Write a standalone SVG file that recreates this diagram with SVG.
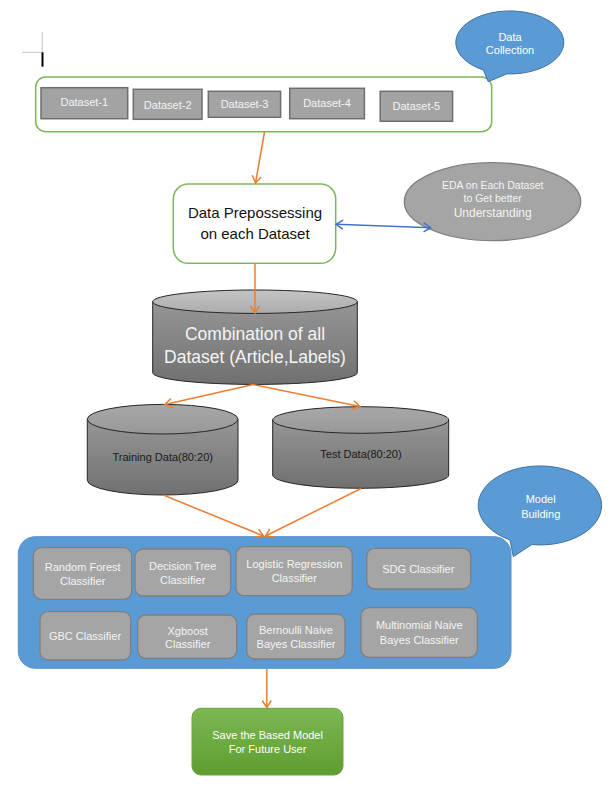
<svg xmlns="http://www.w3.org/2000/svg" width="613" height="809" viewBox="0 0 613 809">
<defs>
<style>
text{font-family:"Liberation Sans",Arial,sans-serif;text-anchor:middle}
.ds{fill:#a3a3a3;stroke:#6e6e6e;stroke-width:1.5}
.dst{fill:#f4f4f4;font-size:11px}
.cl{fill:#a5a5a5;stroke:#7f7f7f;stroke-width:1.3}
.clt{fill:#f4f4f4;font-size:11px}
.gb{fill:#ffffff;stroke:#7cb75a;stroke-width:1.5}
.bub{fill:#5b9bd5;stroke:#41719c;stroke-width:1}
.bubt{fill:#ffffff;font-size:11px}
.cylb{fill:url(#cylGrad);stroke:#262626;stroke-width:1}
.cylt{fill:url(#topGrad);stroke:#262626;stroke-width:1}
.cylt2{fill:url(#topGrad2);stroke:#262626;stroke-width:1}
.or{stroke:#ed7d31;stroke-width:1.5;fill:none}
.bl{stroke:#4472c4;stroke-width:1.5;fill:none}
</style>
<linearGradient id="cylGrad" x1="0" y1="0" x2="0" y2="1">
<stop offset="0" stop-color="#969696"/>
<stop offset="1" stop-color="#707070"/>
</linearGradient>
<linearGradient id="topGrad" x1="0" y1="0" x2="0" y2="1">
<stop offset="0" stop-color="#c4c4c4"/>
<stop offset="1" stop-color="#acacac"/>
</linearGradient>
<linearGradient id="topGrad2" x1="0" y1="0" x2="0" y2="1">
<stop offset="0" stop-color="#a8a8a8"/>
<stop offset="1" stop-color="#989898"/>
</linearGradient>
<linearGradient id="greenGrad" x1="0" y1="0" x2="0" y2="1">
<stop offset="0" stop-color="#7db754"/>
<stop offset="1" stop-color="#5e9d30"/>
</linearGradient>
<marker id="ao" markerUnits="userSpaceOnUse" markerWidth="14" markerHeight="14" viewBox="-10 -7 12 14" refX="0" refY="0" orient="auto">
<path d="M-7,-4.5 L0,0 L-7,4.5" fill="none" stroke="#ed7d31" stroke-width="1.5"/>
</marker>
<marker id="ab" markerUnits="userSpaceOnUse" markerWidth="14" markerHeight="14" viewBox="-10 -7 12 14" refX="0" refY="0" orient="auto-start-reverse">
<path d="M-7,-4.5 L0,0 L-7,4.5" fill="none" stroke="#4472c4" stroke-width="1.5"/>
</marker>
</defs>
<rect width="613" height="809" fill="#ffffff"/>

<g id="cursor">
<line x1="22" y1="52.3" x2="42.3" y2="52.3" stroke="#c4c4c4" stroke-width="1"/>
<line x1="42.3" y1="32.3" x2="42.3" y2="52.3" stroke="#c4c4c4" stroke-width="1"/>
<rect x="41.5" y="52.3" width="2" height="14.4" fill="#000000"/>
</g>

<g id="data-collection-group">
<rect class="gb" x="35.7" y="77" width="456" height="54.7" rx="10"/>
</g>
<g id="dataset-1"><rect class="ds" x="41" y="87.7" width="86.7" height="31"/><text class="dst" x="84.3" y="105.5">Dataset-1</text></g>
<g id="dataset-2"><rect class="ds" x="133.3" y="89.3" width="68.7" height="30"/><text class="dst" x="167.7" y="109">Dataset-2</text></g>
<g id="dataset-3"><rect class="ds" x="208.3" y="91.3" width="72.3" height="26"/><text class="dst" x="244.5" y="108">Dataset-3</text></g>
<g id="dataset-4"><rect class="ds" x="289.7" y="88.3" width="74.7" height="30.4"/><text class="dst" x="327" y="107">Dataset-4</text></g>
<g id="dataset-5"><rect class="ds" x="380.2" y="91.3" width="72.4" height="30"/><text class="dst" x="416.4" y="110">Dataset-5</text></g>

<g id="data-collection-callout">
<path class="bub" d="M506.7,73.9 A54 31.5 0 1 0 483.3,69.9 L488.3,81.7 Z"/>
<text class="bubt" x="510" y="40.5">Data</text>
<text class="bubt" x="510" y="54">Collection</text>
</g>

<g id="data-prepossessing">
<rect class="gb" x="173.3" y="184" width="162.4" height="79.3" rx="15"/>
<text x="255" y="218" style="font-size:15px;fill:#111111">Data Prepossessing</text>
<text x="255" y="239" style="font-size:15px;fill:#111111">on each Dataset</text>
</g>

<g id="eda">
<ellipse cx="492.5" cy="201.7" rx="88.2" ry="39" fill="#a5a5a5" stroke="#7f7f7f" stroke-width="1.3"/>
<text x="492.7" y="189" style="font-size:10.5px;fill:#f4f4f4">EDA on Each Dataset</text>
<text x="492.7" y="202" style="font-size:10.5px;fill:#f4f4f4">to Get better</text>
<text x="492.7" y="217" style="font-size:12px;fill:#f4f4f4">Understanding</text>
</g>

<g id="combination">
<path class="cylb" d="M152.7,301.7 L152.7,372.7 A102.3 11.7 0 0 0 357.3,372.7 L357.3,301.7 Z"/>
<ellipse class="cylt" cx="255" cy="301.7" rx="102.3" ry="11.7"/>
<text x="255" y="339.5" style="font-size:17.5px;fill:#f4f4f4">Combination of all</text>
<text x="255" y="362.5" style="font-size:17.5px;fill:#f4f4f4">Dataset (Article,Labels)</text>
</g>

<g id="training-data">
<path class="cylb" d="M87.3,419.2 L87.3,480.2 A75.35 14.8 0 0 0 238,480.2 L238,419.2 Z"/>
<ellipse class="cylt2" cx="162.65" cy="419.2" rx="75.35" ry="14.8"/>
<text x="162.7" y="461" style="font-size:11px;fill:#1a1a1a">Training Data(80:20)</text>
</g>

<g id="test-data">
<path class="cylb" d="M272.7,420 L272.7,475 A88 13.3 0 0 0 448.7,475 L448.7,420 Z"/>
<ellipse class="cylt2" cx="360.7" cy="420" rx="88" ry="13.3"/>
<text x="361" y="458" style="font-size:11px;fill:#1a1a1a">Test Data(80:20)</text>
</g>

<g id="model-building-group">
<rect x="18.3" y="536.7" width="492.7" height="131.6" rx="17" fill="#5b9bd5" stroke="#5590cc" stroke-width="1"/>
</g>
<g id="random-forest"><rect class="cl" x="33.3" y="547.7" width="98.4" height="51.6" rx="8"/><text class="clt" x="82.7" y="570.6">Random Forest</text><text class="clt" x="82.7" y="585">Classifier</text></g>
<g id="decision-tree"><rect class="cl" x="135" y="549" width="95.7" height="47" rx="8"/><text class="clt" x="182.7" y="569.6">Decision Tree</text><text class="clt" x="182.7" y="584">Classifier</text></g>
<g id="logistic-regression"><rect class="cl" x="236" y="546.7" width="116.3" height="49" rx="8"/><text class="clt" x="294.3" y="568.2">Logistic Regression</text><text class="clt" x="294.3" y="581.6">Classifier</text></g>
<g id="sdg"><rect class="cl" x="366.7" y="548.3" width="104" height="40.7" rx="8"/><text class="clt" x="418.3" y="573">SDG Classifier</text></g>
<g id="gbc"><rect class="cl" x="40" y="611.7" width="90.7" height="48.3" rx="8"/><text class="clt" x="85" y="639.6">GBC Classifier</text></g>
<g id="xgboost"><rect class="cl" x="137.7" y="615" width="99" height="43.3" rx="8"/><text class="clt" x="187.7" y="634.6">Xgboost</text><text class="clt" x="187.7" y="648">Classifier</text></g>
<g id="bernoulli"><rect class="cl" x="246.7" y="614" width="98.3" height="45" rx="8"/><text class="clt" x="296" y="634">Bernoulli Naive</text><text class="clt" x="296" y="648">Bayes Classifier</text></g>
<g id="multinomial"><rect class="cl" x="361" y="607.7" width="116.3" height="49.6" rx="8"/><text class="clt" x="419.3" y="629">Multinomial Naive</text><text class="clt" x="419.3" y="644">Bayes Classifier</text></g>

<g id="model-building-callout">
<path class="bub" d="M531.7,544.6 A61.7 39.5 0 1 0 510,540 L513.3,556.7 Z"/>
<text class="bubt" x="540.7" y="503.2">Model</text>
<text class="bubt" x="540.7" y="518">Building</text>
</g>

<g id="save-model">
<rect x="192" y="708.3" width="151" height="66.7" rx="9" fill="url(#greenGrad)" stroke="#6aa63d" stroke-width="1"/>
<text x="267.6" y="739" style="font-size:11px;fill:#ffffff">Save the Based Model</text>
<text x="267.6" y="753" style="font-size:11px;fill:#ffffff">For Future User</text>
</g>

<g id="connectors">
<line class="or" x1="264.5" y1="132" x2="255.5" y2="183" marker-end="url(#ao)"/>
<line class="or" x1="255" y1="263.5" x2="255" y2="313" marker-end="url(#ao)"/>
<line class="or" x1="253.3" y1="384.5" x2="165" y2="404.5" marker-end="url(#ao)"/>
<line class="or" x1="253.3" y1="384.5" x2="360" y2="406.5" marker-end="url(#ao)"/>
<line class="or" x1="163.3" y1="495" x2="263.5" y2="536" marker-end="url(#ao)"/>
<line class="or" x1="361" y1="488.5" x2="265.5" y2="536" marker-end="url(#ao)"/>
<line class="or" x1="266.8" y1="669" x2="266.8" y2="707.5" marker-end="url(#ao)"/>
<line class="bl" x1="336" y1="224.3" x2="430.7" y2="227.7" marker-start="url(#ab)" marker-end="url(#ab)"/>
</g>
</svg>
